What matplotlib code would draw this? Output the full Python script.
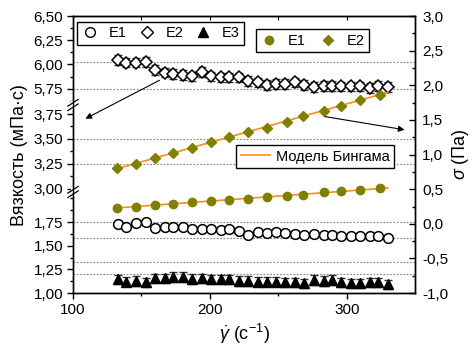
import numpy as np
import matplotlib
matplotlib.use('Agg')
import matplotlib.pyplot as plt
from matplotlib.lines import Line2D
from matplotlib.ticker import FixedLocator, FuncFormatter, MultipleLocator

plt.rcParams['font.family'] = ['Liberation Sans', 'DejaVu Sans']
plt.rcParams['mathtext.fontset'] = 'custom'
plt.rcParams['mathtext.rm'] = 'Liberation Sans'
plt.rcParams['mathtext.it'] = 'Liberation Sans:italic'

# shear rate, c^-1 (viscosity points)
rate = [133, 139, 146, 153, 160, 167, 173, 180, 187, 194,
        201, 208, 214, 221, 228, 235, 242, 248, 255, 262,
        269, 276, 283, 289, 296, 303, 310, 317, 323, 330]
# shear rate for stress points
rate_sigma = [132, 146, 160, 173, 187, 201, 214, 228, 242, 256,
              268, 283, 296, 310, 324]

# viscosity, mPa*s
visc_e1 = [1.725, 1.70, 1.736, 1.753, 1.683, 1.694, 1.694, 1.70, 1.68, 1.672,
           1.68, 1.665, 1.672, 1.655, 1.612, 1.644, 1.637, 1.644, 1.63, 1.623,
           1.612, 1.623, 1.612, 1.612, 1.608, 1.605, 1.605, 1.605, 1.605, 1.584]
visc_e2 = [6.048, 6.02, 6.02, 6.027, 5.945, 5.917, 5.904, 5.894, 5.876, 5.924,
           5.876, 5.866, 5.866, 5.866, 5.832, 5.814, 5.791, 5.798, 5.801, 5.814,
           5.791, 5.767, 5.781, 5.781, 5.774, 5.774, 5.774, 5.757, 5.781, 5.767]
visc_e3 = [1.145, 1.12, 1.127, 1.113, 1.155, 1.155, 1.172, 1.172, 1.148, 1.155,
           1.145, 1.145, 1.145, 1.127, 1.13, 1.12, 1.12, 1.12, 1.113, 1.113,
           1.102, 1.137, 1.127, 1.137, 1.113, 1.102, 1.102, 1.113, 1.113, 1.092]
err_e2 = 0.05
err_e3 = 0.05

# shear stress, Pa
sigma_e1 = [0.234, 0.248, 0.268, 0.291, 0.312, 0.330, 0.349, 0.359, 0.383, 0.402,
            0.421, 0.456, 0.470, 0.489, 0.514]
sigma_e2 = [0.80, 0.87, 0.95, 1.02, 1.10, 1.18, 1.25, 1.32, 1.39, 1.47,
            1.56, 1.63, 1.70, 1.79, 1.86]

# Bingham model lines
fit_rate = [131, 330]
fit_e1 = [0.228, 0.518]
fit_e2 = [0.79, 1.90]

grid_levels = [6.027, 5.75, 3.50, 3.25, 1.75, 1.58, 1.33, 1.20]

olive = '#808000'
orange = '#ff8c1a'

# broken viscosity axis: piecewise linear scale
vis_knots = [1.0, 2.067, 2.97, 3.84, 5.585, 6.5]
pix_knots = [0.0, 101.0, 101.5, 188.0, 188.5, 277.0]


def fwd(v):
    v = np.asarray(v, dtype=float)
    out = np.interp(v, vis_knots, pix_knots)
    out = np.where(v < 1.0, (v - 1.0) * 94.7, out)
    out = np.where(v > 6.5, 277.0 + (v - 6.5) * 97.3, out)
    return out


def inv(p):
    p = np.asarray(p, dtype=float)
    out = np.interp(p, pix_knots, vis_knots)
    out = np.where(p < 0.0, 1.0 + p / 94.7, out)
    out = np.where(p > 277.0, 6.5 + (p - 277.0) / 97.3, out)
    return out


fig = plt.figure(figsize=(4.74, 3.51), dpi=100)
ax = fig.add_axes([0.154, 0.165, 0.722, 0.789])
ax.set_yscale('function', functions=(fwd, inv))
ax.set_xlim(100, 350)
ax.set_ylim(1.0, 6.5)

for g in grid_levels:
    ax.axhline(g, color='#808080', lw=0.8, ls=(0, (1.5, 1.5)), zorder=1)

ax.errorbar(rate, visc_e2, yerr=err_e2, fmt='none', ecolor='#333333',
            elinewidth=1, capsize=3, capthick=1, zorder=2)
ax.errorbar(rate, visc_e3, yerr=err_e3, fmt='none', ecolor='#333333',
            elinewidth=1, capsize=3, capthick=1, zorder=2)
ax.plot(rate, visc_e1, 'o', ms=7, mfc='white', mec='black', mew=1.1, zorder=3)
ax.plot(rate, visc_e2, 'D', ms=6.5, mfc='white', mec='black', mew=1.1, zorder=3)
ax.plot(rate, visc_e3, '^', ms=7, mfc='black', mec='black', zorder=3)

ax.yaxis.set_major_locator(FixedLocator([1.0, 1.25, 1.5, 1.75, 3.0, 3.25, 3.5, 3.75,
                                         5.75, 6.0, 6.25, 6.5]))
ax.yaxis.set_minor_locator(FixedLocator([1.125, 1.375, 1.625, 1.875, 2.0, 3.125, 3.375,
                                         3.625, 5.625, 5.875, 6.125, 6.375]))
ax.yaxis.set_major_formatter(FuncFormatter(lambda v, p: ('%.2f' % v).replace('.', ',')))
ax.xaxis.set_major_locator(FixedLocator([100, 200, 300]))
ax.xaxis.set_minor_locator(FixedLocator([150, 250]))
ax.tick_params(axis='both', which='major', direction='out', length=4, width=1,
               labelsize=11, pad=3)
ax.tick_params(axis='both', which='minor', direction='out', length=2.5, width=1)
ax.set_ylabel('Вязкость (мПа·с)', fontsize=13, labelpad=4)
ax.set_xlabel(r'$\dot{\gamma}$ (с$^{-1}$)', fontsize=13, labelpad=4)

top = ax.secondary_xaxis('top')
top.xaxis.set_major_locator(FixedLocator([150, 200, 250, 300]))
top.tick_params(direction='in', length=3, labeltop=False)

ax2 = ax.twinx()
ax2.set_ylim(-1.0, 3.0)
ax2.plot(fit_rate, fit_e1, color=orange, lw=1.2, zorder=2)
ax2.plot(fit_rate, fit_e2, color=orange, lw=1.2, zorder=2)
ax2.plot(rate_sigma, sigma_e1, 'o', ms=6, color=olive, zorder=3)
ax2.plot(rate_sigma, sigma_e2, 'D', ms=5.5, color=olive, zorder=3)
ax2.yaxis.set_major_locator(MultipleLocator(0.5))
ax2.yaxis.set_minor_locator(MultipleLocator(0.25))
ax2.yaxis.set_major_formatter(FuncFormatter(lambda v, p: ('%.1f' % v).replace('.', ',')))
ax2.tick_params(axis='y', which='major', direction='in', length=4.5, width=1,
                labelsize=11, pad=5)
ax2.tick_params(axis='y', which='minor', direction='in', length=2.5, width=1)
ax2.set_ylabel(r'$\sigma$ (Па)', fontsize=13, labelpad=1)

for a in (ax, ax2):
    for s in a.spines.values():
        s.set_color('black')
        s.set_linewidth(1)

# axis break marks on the left spine
for yb in (0.679, 0.365):
    ax.plot([0, 0], [yb - 0.008, yb + 0.008], transform=ax.transAxes,
            color='white', lw=3, clip_on=False, zorder=10)
    for dy in (-0.008, 0.008):
        ax.plot([-0.015, 0.015], [yb + dy - 0.012, yb + dy + 0.012],
                transform=ax.transAxes, color='black', lw=0.9, clip_on=False, zorder=11)

# arrows
ax2.annotate('', xy=(0.029, 0.625), xytext=(0.26, 0.773), xycoords='axes fraction',
             arrowprops=dict(arrowstyle='-|>', color='black', lw=0.8, mutation_scale=9))
ax2.annotate('', xy=(0.977, 0.588), xytext=(0.728, 0.639), xycoords='axes fraction',
             arrowprops=dict(arrowstyle='-|>', color='black', lw=0.8, mutation_scale=9))

leg_kw = dict(frameon=True, fancybox=False, edgecolor='black', framealpha=1,
              fontsize=10.5, handletextpad=0.7, borderpad=0.3, handlelength=1.2,
              borderaxespad=0)
h1 = [Line2D([], [], ls='none', marker='o', ms=7, mfc='white', mec='black'),
      Line2D([], [], ls='none', marker='D', ms=6.5, mfc='white', mec='black'),
      Line2D([], [], ls='none', marker='^', ms=7.5, mfc='black', mec='black')]
leg1 = ax2.legend(h1, ['E1', 'E2', 'E3'], loc='upper left', bbox_to_anchor=(0.012, 0.979),
                  ncol=3, columnspacing=0.75, **leg_kw)
leg1.get_frame().set_linewidth(1)
ax2.add_artist(leg1)

h2 = [Line2D([], [], ls='none', marker='o', ms=6, color=olive),
      Line2D([], [], ls='none', marker='D', ms=5.5, color=olive)]
leg2 = ax2.legend(h2, ['E1', 'E2'], loc='upper left', bbox_to_anchor=(0.534, 0.952),
                  ncol=2, columnspacing=0.9, **leg_kw)
leg2.get_frame().set_linewidth(1)
ax2.add_artist(leg2)

h3 = [Line2D([], [], color=orange, lw=1.2)]
leg_kw3 = dict(leg_kw)
leg_kw3['handlelength'] = 2.0
leg_kw3['handletextpad'] = 0.4
leg3 = ax2.legend(h3, ['Модель Бингама'], loc='upper left', bbox_to_anchor=(0.477, 0.534),
                  **leg_kw3)
leg3.get_frame().set_linewidth(1)

fig.savefig('out.png', dpi=100)
